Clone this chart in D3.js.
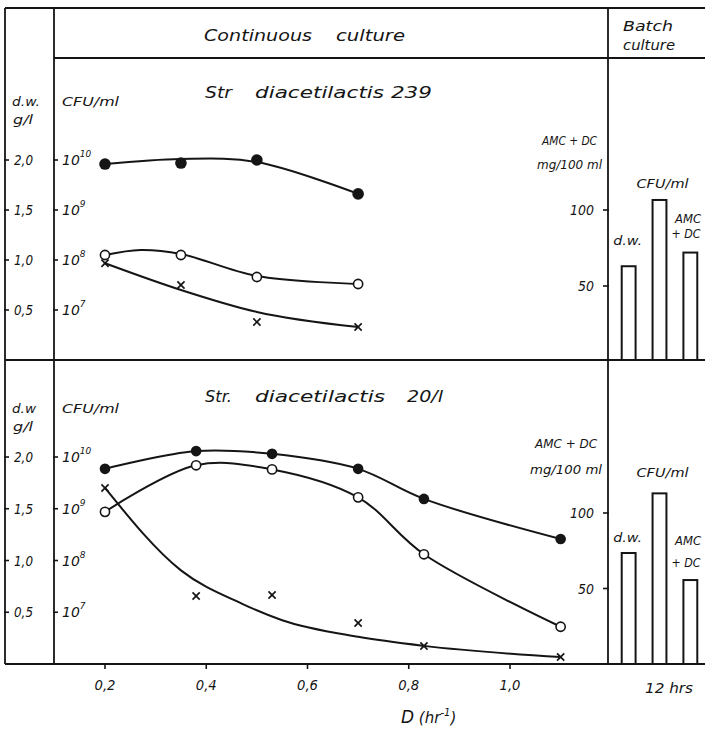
<!DOCTYPE html>
<html><head><meta charset="utf-8">
<script src="https://cdn.jsdelivr.net/npm/d3@7"></script>
<style>
html,body{margin:0;padding:0;background:#fff;}
svg text{font-family:"DejaVu Sans",sans-serif;font-style:italic;fill:#151515;}
</style></head><body>
<svg id="chart" width="705" height="730"></svg>
<script>
// Axis ticks
const dTicks = [0.2, 0.4, 0.6, 0.8, 1.0];
const dwTicks = [0.5, 1.0, 1.5, 2.0];
const cfuTicks = [1e7, 1e8, 1e9, 1e10];
const amcTicks = [50, 100];
const batchCategories = ["d.w.", "CFU/ml", "AMC+DC"];

// Str. diacetilactis 239 — continuous culture
const rate239 = [0.2, 0.35, 0.5, 0.7];
const cfu239 = [8.3e9, 8.7e9, 1.0e10, 2.1e9];
const dw239 = [1.05, 1.05, 0.83, 0.76];
const amc239 = [65, 50.7, 26.3, 23];
// smoothed trend knots (D, value)
const cfu239Fit = [[0.2, 8.3e9], [0.35, 1.05e10], [0.5, 9.1e9], [0.7, 2.1e9]];
const dw239Fit = [[0.2, 1.05], [0.27, 1.10], [0.35, 1.06], [0.5, 0.84], [0.7, 0.76]];
const amc239Fit = [[0.2, 65], [0.35, 47.4], [0.5, 32.9], [0.7, 23]];
// batch culture, 12 hrs (right-hand scale)
const batch239 = [63, 106.6, 72];

// Str. diacetilactis 20/l — continuous culture
const rate20 = [0.2, 0.38, 0.53, 0.7, 0.83, 1.1];
const cfu20 = [5.9e9, 1.3e10, 1.15e10, 5.9e9, 1.55e9, 2.6e8];
const dw20 = [1.47, 1.92, 1.88, 1.61, 1.06, 0.36];
const amc20 = [116.6, 45, 45.7, 27.2, 11.9, 4.6];
const cfu20Fit = rate20.map((d, i) => [d, cfu20[i]]);
const dw20Fit = rate20.map((d, i) => [d, dw20[i]]);
const amc20Fit = [[0.2, 116.6], [0.35, 62], [0.47, 40], [0.55, 29], [0.7, 18], [0.83, 12], [1.1, 4.6]];
const batch20 = [73.5, 113, 55.6];

const svg = d3.select("#chart");
const ink = "#151515";
const comma = v => v.toFixed(1).replace(".", ",");

// Layout
const L = { outer: 5, inner: 54, divider: 608, right: 705, top: 8, header: 58, mid: 360, bottom: 664 };
const x = d3.scaleLinear().domain([0.2, 1.0]).range([105, 510]);
const xb = d3.scaleBand().domain(batchCategories).range([614, 705]).paddingInner(0.55).paddingOuter(0.25);

function line(x1, y1, x2, y2, w = 1.8) {
  svg.append("line").attr("x1", x1).attr("y1", y1).attr("x2", x2).attr("y2", y2)
    .attr("stroke", ink).attr("stroke-width", w);
}
function text(str, tx, ty, size, anchor = "start", len = null) {
  const t = svg.append("text").attr("x", tx).attr("y", ty).attr("font-size", size)
    .attr("text-anchor", anchor).text(str);
  if (len) t.attr("textLength", len).attr("lengthAdjust", "spacingAndGlyphs");
  return t;
}

// Frame
line(L.outer, L.top, L.right, L.top);
line(L.inner, L.header, L.right, L.header);
line(L.outer, L.mid, L.right, L.mid);
line(L.outer, L.bottom, L.right, L.bottom);
line(L.outer, L.top, L.outer, L.bottom);
line(L.inner, L.top, L.inner, L.bottom);
line(L.divider, L.top, L.divider, L.bottom);

// Header
text("Continuous", 204, 41, 15, "start", 108);
text("culture", 336, 41, 15, "start", 69);
text("Batch", 623, 31, 14, "start", 50);
text("culture", 623, 50, 14, "start", 52);

const panels = [
  {
    name: ["Str", "diacetilactis 239"], nameX: [205, 255], nameW: [27, 177], nameY: 98,
    dwLabel: "d.w.", unitY: 106, gY: 124,
    bottom: L.mid,
    yDw: d3.scaleLinear().domain([0, 2]).range([360, 160]),
    yCfu: d3.scaleLog().domain([1e6, 1e10]).range([360, 160]),
    yAmc: d3.scaleLinear().domain([0, 100]).range([362, 210]),
    amcLabelY: [145, 169], amcLabelX: 542,
    rate: rate239, cfu: cfu239, dw: dw239, amc: amc239,
    cfuFit: cfu239Fit, dwFit: dw239Fit, amcFit: amc239Fit,
    batch: batch239,
    batchLabels: { cfuY: 188, dwY: 245, amcY: [223, 238] },
    r: 5.8
  },
  {
    name: ["Str.", "diacetilactis", "20/l"], nameX: [205, 255, 407], nameW: [27, 130, 36], nameY: 402,
    dwLabel: "d.w", unitY: 413, gY: 431,
    bottom: L.bottom,
    yDw: d3.scaleLinear().domain([0, 2]).range([664, 457]),
    yCfu: d3.scaleLog().domain([1e6, 1e10]).range([664, 457]),
    yAmc: d3.scaleLinear().domain([0, 100]).range([664, 513]),
    amcLabelY: [448, 474], amcLabelX: 535,
    rate: rate20, cfu: cfu20, dw: dw20, amc: amc20,
    cfuFit: cfu20Fit, dwFit: dw20Fit, amcFit: amc20Fit,
    batch: batch20,
    batchLabels: { cfuY: 477, dwY: 542, amcY: [545, 567] },
    r: 5.3
  }
];

panels.forEach(p => {
  // Titles
  p.name.forEach((s, i) => text(s, p.nameX[i], p.nameY, 15, "start", p.nameW[i]));

  // Left axis labels
  text(p.dwLabel, 12, p.unitY, 13, "start", p.dwLabel.length === 4 ? 28 : 24);
  text("g/l", 13, p.gY, 13, "start", 20);
  text("CFU/ml", 62, p.unitY, 13, "start", 57);

  // d.w. axis (outer line)
  dwTicks.forEach(v => {
    const ty = p.yDw(v);
    line(L.outer - 1, ty, L.outer + 4, ty, 1.6);
    text(comma(v), 14, ty + 5, 14, "start", 19);
  });

  // CFU/ml axis (inner line, log)
  cfuTicks.forEach(v => {
    const ty = p.yCfu(v);
    line(L.inner - 1, ty, L.inner + 4, ty, 1.6);
    const t = text("10", 62, ty + 5, 14, "start");
    t.append("tspan").attr("dy", -8).attr("font-size", 9).text(Math.round(Math.log10(v)));
  });

  // AMC+DC axis (divider)
  text("AMC + DC", p.amcLabelX, p.amcLabelY[0], 12.5, "start", 597 - p.amcLabelX);
  text("mg/100 ml", p.amcLabelX - 5, p.amcLabelY[1], 12.5, "start", 607 - p.amcLabelX);
  amcTicks.forEach(v => {
    const ty = p.yAmc(v);
    line(L.divider - 5, ty, L.divider + 1, ty, 1.6);
    text(String(v), 594, ty + 5, 14, "end", v === 100 ? 24 : 16);
  });

  // Trend curves
  const curve = d3.line().curve(d3.curveCatmullRom.alpha(0.5)).x(d => x(d[0]));
  const monotone = d3.line().curve(d3.curveMonotoneX).x(d => x(d[0]));
  svg.append("path").datum(p.cfuFit).attr("fill", "none").attr("stroke", ink).attr("stroke-width", 2)
    .attr("d", curve.y(d => p.yCfu(d[1])));
  svg.append("path").datum(p.dwFit).attr("fill", "none").attr("stroke", ink).attr("stroke-width", 2)
    .attr("d", curve.y(d => p.yDw(d[1])));
  svg.append("path").datum(p.amcFit).attr("fill", "none").attr("stroke", ink).attr("stroke-width", 2)
    .attr("d", monotone.y(d => p.yAmc(d[1])));

  // CFU/ml — filled circles
  svg.append("g").selectAll("circle").data(p.rate).join("circle")
    .attr("cx", d => x(d)).attr("cy", (d, i) => p.yCfu(p.cfu[i])).attr("r", p.r).attr("fill", ink);
  // d.w. — open circles
  svg.append("g").selectAll("circle").data(p.rate).join("circle")
    .attr("cx", d => x(d)).attr("cy", (d, i) => p.yDw(p.dw[i])).attr("r", 4.6)
    .attr("fill", "#fff").attr("stroke", ink).attr("stroke-width", 1.6);
  // AMC+DC — crosses
  p.rate.forEach((d, i) => {
    const cx = x(d), cy = p.yAmc(p.amc[i]), s = 3.6;
    line(cx - s, cy - s, cx + s, cy + s, 1.7);
    line(cx - s, cy + s, cx + s, cy - s, 1.7);
  });

  // Batch culture bars
  svg.append("g").selectAll("rect").data(batchCategories).join("rect")
    .attr("x", d => xb(d)).attr("width", xb.bandwidth())
    .attr("y", (d, i) => p.yAmc(p.batch[i]))
    .attr("height", (d, i) => p.bottom - p.yAmc(p.batch[i]))
    .attr("fill", "#fff").attr("stroke", ink).attr("stroke-width", 2);

  const bl = p.batchLabels;
  text("CFU/ml", xb("CFU/ml") + xb.bandwidth() / 2 + 3, bl.cfuY, 13, "middle", 52);
  text("d.w.", xb("d.w.") + xb.bandwidth() / 2 - 1, bl.dwY, 13, "middle", 29);
  text("AMC", 688, bl.amcY[0], 12, "middle", 26);
  text("+ DC", 686, bl.amcY[1], 12, "middle", 29);
});

// D axis
dTicks.forEach(v => {
  line(x(v), L.bottom, x(v), L.bottom + 5, 1.6);
  text(comma(v), x(v), 690, 14, "middle", 21);
});
const dl = text("D", 401, 723, 17, "start");
dl.append("tspan").attr("font-size", 15).text(" (hr");
dl.append("tspan").attr("dy", -7).attr("font-size", 10).text("-1");
dl.append("tspan").attr("dy", 7).attr("font-size", 15).text(")");

text("12 hrs", 645, 693, 14, "start", 48);
</script>
</body></html>
